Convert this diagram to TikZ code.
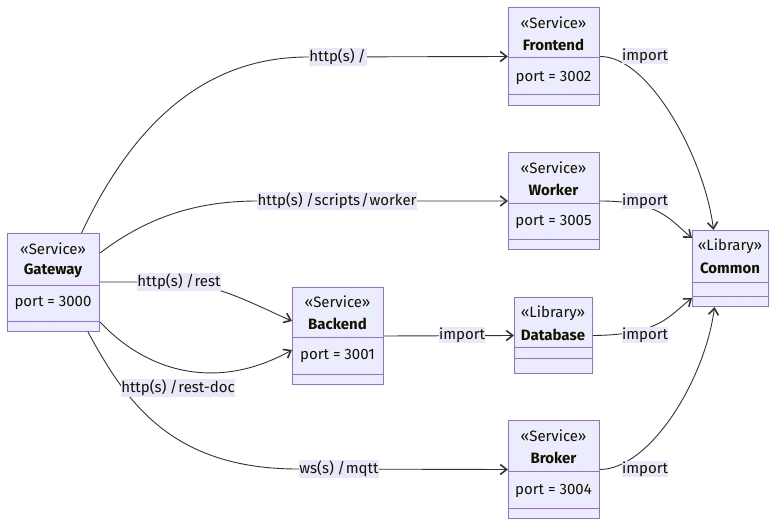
\documentclass[tikz,border=0pt]{standalone}
\usepackage{fontspec}
\setmainfont{Fira Sans}
\usetikzlibrary{arrows.meta}

\definecolor{classfill}{HTML}{ECECFF}
\definecolor{classedge}{HTML}{9370DB}
\definecolor{linkcol}{HTML}{333333}
\definecolor{labelbg}{RGB}{232,232,250}
\definecolor{txt}{HTML}{131300}

% slash with a little air on both sides
\newcommand{\pathsep}{\kern0.8pt/\kern0.8pt}

\tikzset{
  classbox/.style={draw=classedge, fill=classfill, line width=1pt, anchor=north west, inner sep=0pt},
  divider/.style={draw=classedge, line width=1pt},
  stereo/.style={font=\fontsize{15}{17}\selectfont, text=txt, inner sep=0pt},
  cname/.style={font=\fontsize{15}{17}\selectfont\bfseries, text=txt, inner sep=0pt},
  attr/.style={font=\fontsize{15}{17}\selectfont, text=txt, inner sep=0pt},
  link/.style={draw=linkcol, line width=0.9pt, -{Straight Barb[length=6.5pt,width=10pt,line width=1.6pt]}},
  linklabel/.style={fill=labelbg, font=\fontsize{15}{17}\selectfont, text=txt, inner xsep=0.5pt, inner ysep=1pt}
}

\begin{document}
\begin{tikzpicture}[x=1pt, y=-1pt]
\useasboundingbox (0,0) rectangle (784,532);

% ---------- class boxes ----------
% Gateway
\node[classbox, minimum width=92pt, minimum height=98pt] (gateway) at (7,233) {};
\draw[divider] (7,285) -- (99,285);
\draw[divider] (7,321) -- (99,321);
\node[stereo] (gwst) at (53,249) {«Service»};
\node[cname] (gwnm) at (53,271) {Gateway};
\node[attr] (gwat) at (53,303) {port = 3000};

% Frontend
\node[classbox, minimum width=91pt, minimum height=98pt] (frontend) at (508,7) {};
\draw[divider] (508,58) -- (599,58);
\draw[divider] (508,95) -- (599,95);
\node[stereo] (fest) at (553.5,23) {«Service»};
\node[cname] (fenm) at (553.5,45) {Frontend};
\node[attr] (feat) at (553.5,78) {port = 3002};

% Worker
\node[classbox, minimum width=91pt, minimum height=97pt] (worker) at (508,152) {};
\draw[divider] (508,203) -- (599,203);
\draw[divider] (508,239) -- (599,239);
\node[stereo] (wkst) at (553.5,168) {«Service»};
\node[cname] (wknm) at (553.5,190) {Worker};
\node[attr] (wkat) at (553.5,222) {port = 3005};

% Backend
\node[classbox, minimum width=91pt, minimum height=97pt] (backend) at (292,287) {};
\draw[divider] (292,337) -- (383,337);
\draw[divider] (292,374) -- (383,374);
\node[stereo] (bkst) at (337.5,302) {«Service»};
\node[cname] (bknm) at (337.5,324) {Backend};
\node[attr] (bkat) at (337.5,356) {port = 3001};

% Database
\node[classbox, minimum width=78pt, minimum height=76pt] (database) at (514,297) {};
\draw[divider] (514,347) -- (592,347);
\draw[divider] (514,358) -- (592,358);
\node[stereo] (dbst) at (553,313) {«Library»};
\node[cname] (dbnm) at (553,335) {Database};

% Common
\node[classbox, minimum width=76pt, minimum height=76pt] (common) at (692,230) {};
\draw[divider] (692,282) -- (768,282);
\draw[divider] (692,296) -- (768,296);
\node[stereo] (cmst) at (730,246) {«Library»};
\node[cname] (cmnm) at (730,268) {Common};

% Broker
\node[classbox, minimum width=91pt, minimum height=98pt] (broker) at (508,420) {};
\draw[divider] (508,471) -- (599,471);
\draw[divider] (508,508) -- (599,508);
\node[stereo] (brst) at (553.5,436) {«Service»};
\node[cname] (brnm) at (553.5,458) {Broker};
\node[attr] (brat) at (553.5,491) {port = 3004};

% ---------- connectors from the gateway ----------
\draw[link] ([xshift=28pt]gateway.north) .. controls (130,130) and (200,57) .. (308,57) -- (frontend.west);
\draw[link] ([yshift=-20pt]gateway.north east) .. controls (150,215) and (200,201) .. (258,201) -- (worker.west);
\draw[link] ([yshift=-49pt]gateway.north east) -- (170,282) .. controls (215,282) and (255,305) .. ([yshift=15pt]backend.west);
\draw[link] ([yshift=10pt]gateway.south east) .. controls (150,375) and (220,390) .. ([yshift=-14pt]backend.west);
\draw[link] ([xshift=-12pt]gateway.south east) .. controls (125,400) and (170,469) .. (298,469) -- (broker.west);

% ---------- import connectors ----------
\draw[link] (backend.east) -- (database.west);
\draw[link] (frontend.east) .. controls (650,56) and (705,160) .. ([xshift=-17pt]common.north);
\draw[link] (worker.east) .. controls (660,201) and (670,220) .. ([yshift=-8pt]common.north west);
\draw[link] (database.east) .. controls (660,335) and (670,315) .. ([yshift=9pt]common.south west);
\draw[link] (broker.east) .. controls (650,469) and (705,380) .. ([xshift=-16pt]common.south);

% ---------- connector labels ----------
\node[linklabel] (l1) at (338,57) {http(s)\,\pathsep};
\node[linklabel] (l2) at (337,201) {http(s)\,\pathsep scripts\pathsep worker};
\node[linklabel] (l3) at (179,282) {http(s)\,\pathsep rest};
\node[linklabel] (l4) at (178,388) {http(s)\,\pathsep rest-doc};
\node[linklabel] (l5) at (339,469) {ws(s)\,\pathsep mqtt};
\node[linklabel] (i1) at (645,56) {import};
\node[linklabel] (i2) at (645,201) {import};
\node[linklabel] (i3) at (462,335) {import};
\node[linklabel] (i4) at (645,335) {import};
\node[linklabel] (i5) at (645,469) {import};
\end{tikzpicture}
\end{document}
